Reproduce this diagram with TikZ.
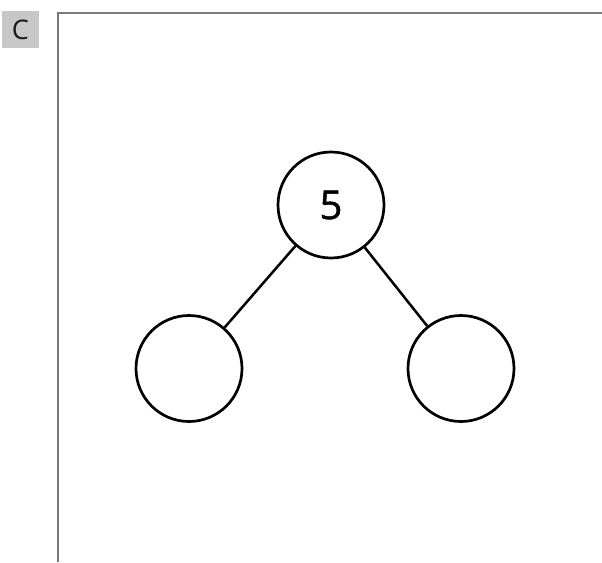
\documentclass[tikz,border=0pt]{standalone}
\usepackage{fontspec}
\setmainfont{Open Sans}
\newfontfamily\numfont[FakeBold=1.2]{Open Sans}
\begin{document}
\begin{tikzpicture}[x=1pt,y=-1pt,
  numcircle/.style={circle,draw=black,line width=2.7pt,minimum size=106pt,inner sep=0pt},
  frameline/.style={draw=black!52,line width=2.2pt},
  edge/.style={draw=black,line width=2.5pt}]
\useasboundingbox (0,0) rectangle (602,562);
% label box
\node[fill=black!22,minimum width=37pt,minimum height=37pt,inner sep=0pt,
  font=\fontsize{27}{27}\selectfont,text=black!90] (lab) at (20.5,29.5) {C};
% frame
\coordinate (fbot) at (58,562);
\coordinate (fcorner) at (58,12.7);
\coordinate (fright) at (602,12.7);
\draw[frameline] (fbot) -- (fcorner) -- (fright);
% nodes
\node[numcircle,font=\numfont\fontsize{40}{40}\selectfont] (top) at (331,205) {5};
\node[numcircle] (left) at (189,368.5) {};
\node[numcircle] (right) at (461,368.5) {};
\draw[edge] (top) -- (left);
\draw[edge] (top) -- (right);
\end{tikzpicture}
\end{document}
